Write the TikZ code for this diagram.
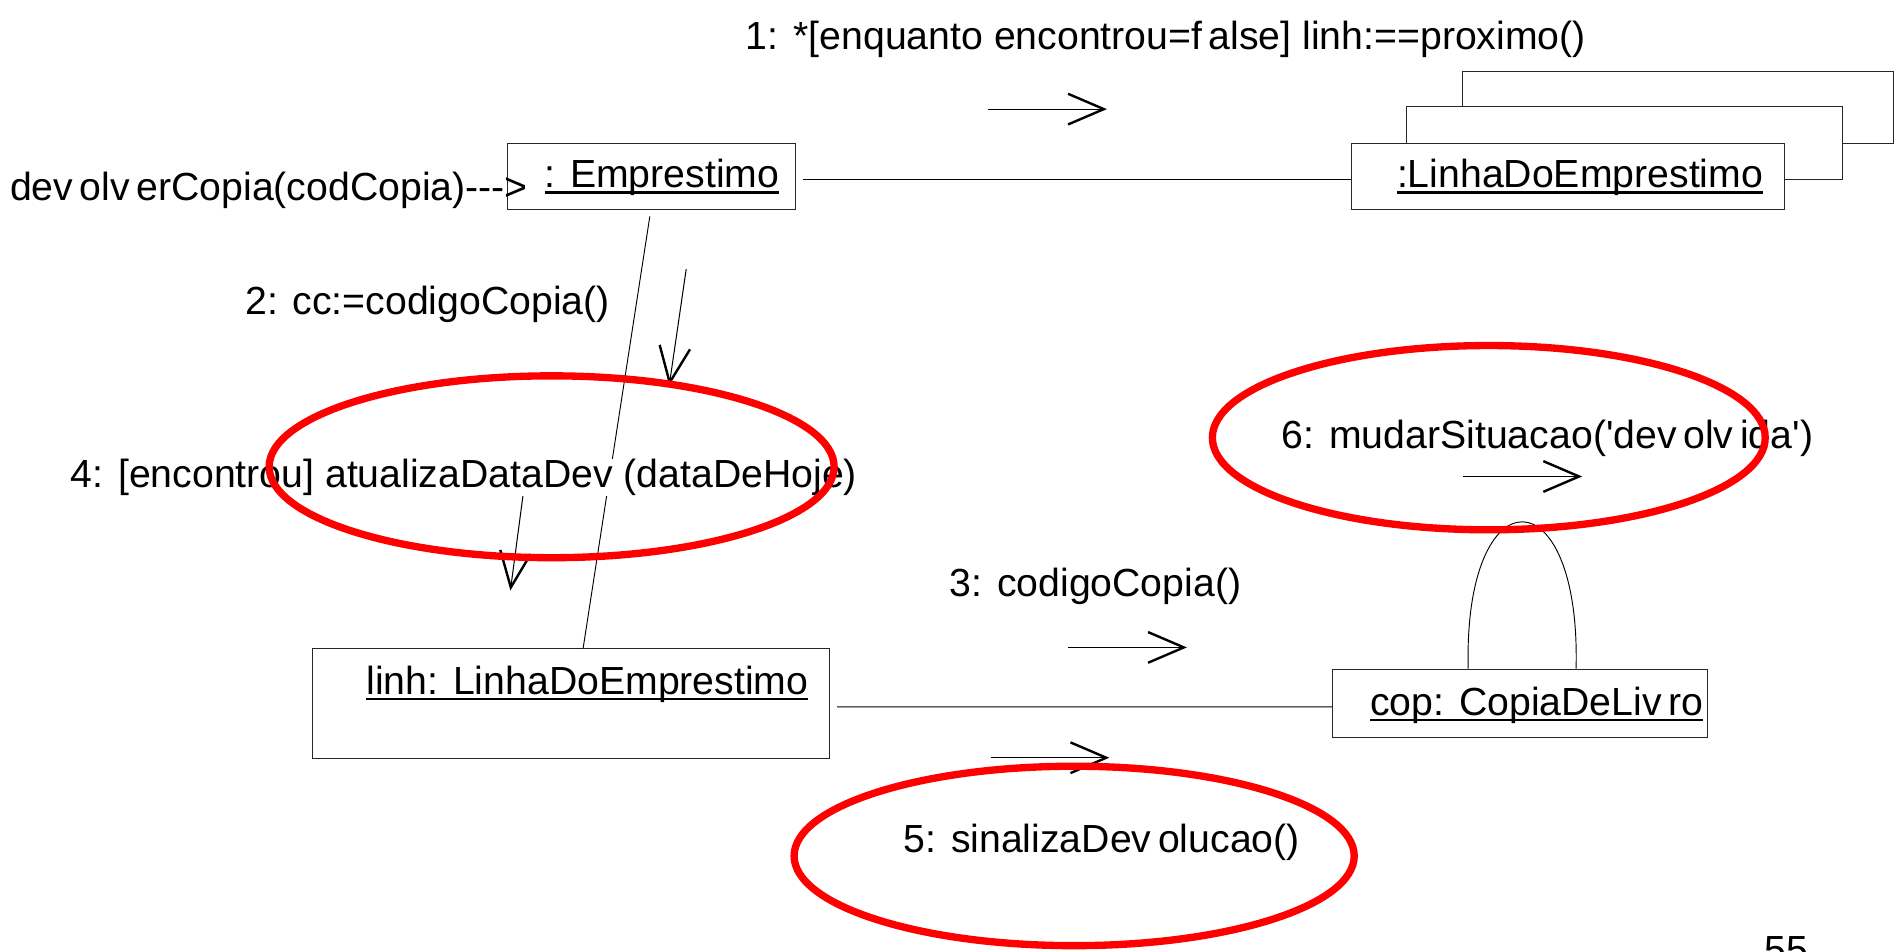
\documentclass[tikz,border=0pt]{standalone}
\usepackage{fontspec}
\newfontfamily\diagfont{Liberation Sans}
\usetikzlibrary{arrows.meta,calc}
\newcommand\ulbox[1]{\setbox0=\hbox{#1}\rlap{\vrule height -2pt depth 3.4pt width \wd0}\box0}
\newcommand\tightsp[1]{{\spaceskip=0.17em\relax #1}}
\newcommand\csp{\ \kern0.1em}
\begin{document}
\begin{tikzpicture}[x=0.025cm,y=-0.025cm,
  box/.style={draw=black!85,line width=0.6pt,inner sep=0pt,minimum width=#1},
  txt/.style={font=\diagfont\fontsize{23}{27}\selectfont,inner sep=0pt,anchor=base west},
  wtxt/.style={txt,fill=white},
  link/.style={draw,line width=0.55pt},
  msg/.style={draw,line width=0.6pt,-{Straight Barb[length=21pt,width=18pt,line width=1.4pt]}},
  redring/.style={draw=red,line width=4.3pt}]
\useasboundingbox (0,0) rectangle (1568,785);
% stacked multi-object boxes
\draw[line width=0.6pt,draw=black!85] (1206,88) -- (1206,59) -- (1562,59) -- (1562,118) -- (1520,118);
\draw[line width=0.6pt,draw=black!85] (1160,118) -- (1160,88) -- (1520,88) -- (1520,148) -- (1472,148);
% object boxes
\node[box=5.925cm,minimum height=1.375cm] (emp) at (537.5,145.5) {};
\node[box=8.925cm,minimum height=1.375cm,fill=white] (lin) at (1293.5,145.5) {};
\node[box=10.65cm,minimum height=2.275cm] (linh) at (471,580.5) {};
\node[box=7.725cm,minimum height=1.4cm] (cop) at (1253.5,580) {};
% links
\draw[link] ([shift={(6,2.5)}]emp.east) -- ([yshift=-2.5*0.025cm]lin.west);
\draw[link] ([shift={(-1.5,5)}]emp.south) -- ([shift={(10,0)}]linh.north);
\draw[link] ([shift={(6,2.5)}]linh.east) -- ([yshift=-3*0.025cm]cop.west);
\draw[link] ([xshift=-42.5*0.025cm]cop.north) .. controls (1207,390) and (1304,390) .. ([xshift=46.5*0.025cm]cop.north);
% message arrows
\coordinate (m1a) at (815,90);   \coordinate (m1b) at (913,90);
\coordinate (m2a) at (566,222);  \coordinate (m2b) at (552,318);
\coordinate (m4a) at (432,404);  \coordinate (m4b) at (421,487);
\coordinate (m3a) at (881,534);  \coordinate (m3b) at (979,534);
\coordinate (m5a) at (817,625);  \coordinate (m5b) at (915,625);
\coordinate (m6a) at (1207,393); \coordinate (m6b) at (1305,393);
\draw[msg] (m1a) -- (m1b);
\draw[msg] (m2a) -- (m2b);
\draw[msg] (m4a) -- (m4b);
\draw[msg] (m3a) -- (m3b);
\draw[msg] (m5a) -- (m5b);
\draw[msg] (m6a) -- (m6b);
% texts
\node[txt] (t1) at (615,41) {1:\csp*[enquanto encontrou=\tightsp{f alse}] linh:==proximo()};
\node[txt] (tin) at (8,165) {\tightsp{dev olv erCopia(codCopia)--->}};
\node[txt] (lemp) at (449,155) {\ulbox{: Emprestimo}};
\node[txt] (llin) at (1152,155) {\ulbox{:LinhaDoEmprestimo}};
\node[txt] (t2) at (202,259) {2:\csp cc:=codigoCopia()};
\node[wtxt] (t4) at (58,402) {4:\csp [encontrou] atualizaDataDev (dataDeHoje)};
\node[txt] (t6) at (1057,370) {6:\csp mudarSituacao(\textquotesingle\tightsp{dev olv ida}\textquotesingle)};
\node[txt] (t3) at (783,492) {3:\csp codigoCopia()};
\node[txt] (llinh) at (302,573) {\ulbox{linh:\csp LinhaDoEmprestimo}};
\node[txt] (lcop) at (1130,590) {\ulbox{cop:\csp \tightsp{CopiaDeLiv ro}}};
\node[txt] (t5) at (745,703) {5:\csp \tightsp{sinalizaDev olucao()}};
\node[txt] (pg) at (1455,795) {55};
% red highlight ellipses
\draw[redring] (455,385) ellipse [x radius=233, y radius=75];
\draw[redring] (1228,361) ellipse [x radius=228, y radius=76];
\draw[redring] (886,706) ellipse [x radius=231, y radius=74];
\end{tikzpicture}
\end{document}
